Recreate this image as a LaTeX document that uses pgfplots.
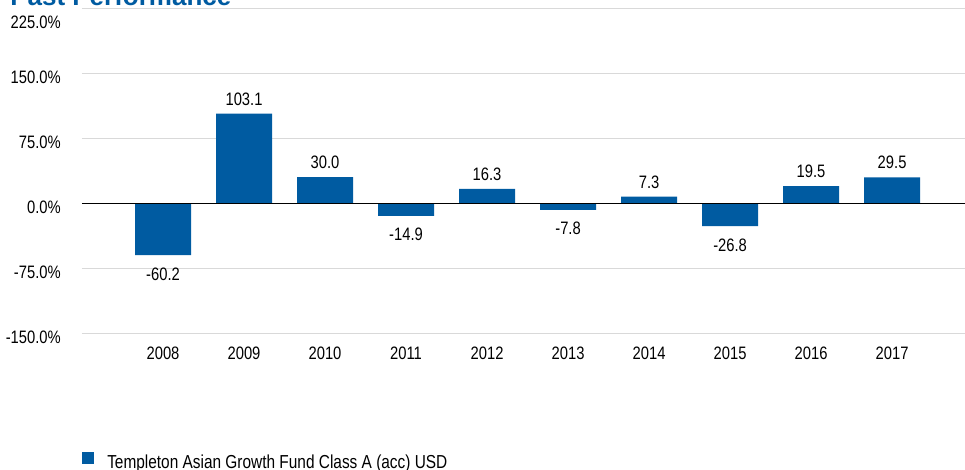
\documentclass[border=0pt]{standalone}
\usepackage{fontspec}
\setmainfont{Liberation Sans}[FakeStretch=0.82]
\newfontfamily\titlefont{Liberation Sans}
\usepackage{pgfplots}
\pgfplotsset{compat=1.18}
\definecolor{fblue}{RGB}{0,91,161}
\definecolor{gridgray}{RGB}{217,217,217}
\begin{document}
\begin{tikzpicture}[x=0.75pt,y=0.75pt]
\useasboundingbox (-82,-136) rectangle (883,333);
\node[anchor=base west, font=\titlefont\bfseries\fontsize{19.5}{22}\selectfont, text=fblue, inner sep=0pt] at (-72,328) {Past Performance};
\begin{axis}[at={(0,0)}, anchor=south west, scale only axis,
  width=662.25pt, height=243.75pt,
  xmin=-1, xmax=9.9, ymin=-150, ymax=225,
  ybar, bar width=42pt,
  xtick={0,...,9}, xticklabels={2008,2009,2010,2011,2012,2013,2014,2015,2016,2017},
  ytick={-150,-75,0,75,150},
  ymajorgrids, grid style={gridgray, line width=0.75pt},
  extra y ticks={225},
  extra y tick style={grid style={gridgray, line width=0.75pt}, yticklabel style={yshift=-7.5pt}},
  axis line style={draw=none}, major tick length=0pt,
  tick label style={font=\fontsize{13.5}{16}\selectfont},
  /pgf/number format/assume math mode=true,
  yticklabel={\pgfmathprintnumber[fixed,fixed zerofill,precision=1]{\tick}\%},
  yticklabel style={anchor=east, inner sep=0pt, xshift=-15.75pt, yshift=-3pt},
  xticklabel style={anchor=north, inner sep=0pt, yshift=-10.5pt},
  nodes near coords={\pgfmathprintnumber[fixed,fixed zerofill,precision=1]{\pgfplotspointmeta}},
  nodes near coords align={vertical},
  every node near coord/.append style={font=\fontsize{13.5}{16}\selectfont, inner sep=0pt, text=black},
  legend style={at={(0,-0.366)}, anchor=north west, draw=none, fill=none, inner sep=0pt,
    font=\fontsize{14.1}{16}\selectfont, column sep=9.75pt, nodes={inner sep=0pt}},
  legend image code/.code={\fill[fblue] (0pt,-1.5pt) rectangle (9pt,7.5pt);},
  clip=false,
]
\addplot[fill=fblue, draw=none, bar shift=0pt, every node near coord/.append style={inner sep=6pt}] coordinates {
(1,103.1) (2,30.0) (4,16.3) (6,7.3) (8,19.5) (9,29.5)};
\addlegendentry{Templeton Asian Growth Fund Class A (acc) USD}
\addplot[fill=fblue, draw=none, bar shift=0pt, forget plot, every node near coord/.append style={inner sep=9pt}] coordinates {
(0,-60.2) (3,-14.9) (5,-7.8) (7,-26.8)};
\draw[black, line width=0.75pt] (axis cs:-1,0) -- (axis cs:9.9,0);
\end{axis}
\end{tikzpicture}
\end{document}
